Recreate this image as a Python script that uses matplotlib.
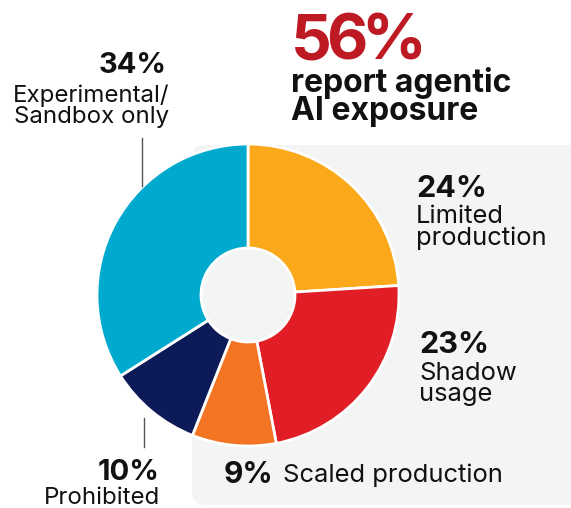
import matplotlib
matplotlib.use("Agg")
from matplotlib import pyplot as plt
from matplotlib.patches import FancyBboxPatch

# adoption stages, clockwise from 12 o'clock
stages = ["Limited production", "Shadow usage", "Scaled production", "Prohibited", "Experimental/\nSandbox only"]
shares = [24, 23, 9, 10, 34]
colors = ["#FBA81B", "#E11D25", "#F37423", "#0C1A57", "#00A9CE"]
headline = 56

plt.rcParams["font.family"] = ["Inter", "DejaVu Sans"]

W, H = 571, 508
fig = plt.figure(figsize=(W / 100, H / 100), dpi=100)
ax = fig.add_axes([0, 0, 1, 1])

# grey panel behind the right half
panel = FancyBboxPatch((192, 145), 420, 360, boxstyle="round,pad=0,rounding_size=14",
                       facecolor="#F3F4F4", edgecolor="none", zorder=0)
ax.add_patch(panel)

# y axis runs downward, so counterclock=True reads clockwise on screen
ax.pie(shares, colors=colors, startangle=-90, counterclock=True,
       center=(248, 295), radius=151,
       wedgeprops=dict(width=151 - 47, edgecolor="white", linewidth=2))

ax.set_xlim(0, W)
ax.set_ylim(H, 0)
ax.set_aspect("equal")
ax.axis("off")

dark = "#111111"
renderer = fig.canvas.get_renderer()


def tracked(x, y, s, track, **kw):
    # place characters one by one to tighten the spacing
    for ch in s:
        t = ax.text(x, y, ch, va="baseline", **kw)
        x += t.get_window_extent(renderer).width + track


def pct(x, y, v, size, ha="left"):
    ax.text(x, y, f"{v}%", fontsize=size, fontweight="bold", color=dark, ha=ha, va="baseline")


def words(x, y, s, size, ha="left", gap=22):
    for i, line in enumerate(s.split("\n")):
        ax.text(x, y + i * gap, line, fontsize=size, color=dark, ha=ha, va="baseline")


# headline
tracked(291, 60, f"{headline}%", -6, fontsize=46, fontweight="bold", color="#BE1A24")
ax.text(291, 92, "report agentic", fontsize=23, fontweight="bold", color=dark, va="baseline")
ax.text(291, 120, "AI exposure", fontsize=23, fontweight="bold", color=dark, va="baseline")

# slice labels, right side
pct(416, 197, shares[0], 22)
words(416, 223, stages[0].replace(" ", "\n"), 18.4, gap=22)

pct(419, 353, shares[1], 22)
words(419, 380, stages[1].replace(" ", "\n"), 18.4, gap=21)

pct(224, 483, shares[2], 21.5)
words(283, 482, stages[2], 18.4)

# slice labels, left side
pct(160, 480, shares[3], 21, ha="right")
words(160, 504, stages[3], 17.3, ha="right")

pct(167, 73, shares[4], 21, ha="right")
words(169, 102, stages[4], 17.3, ha="right", gap=21)

# leader lines
ax.plot([142, 142], [138, 186], color="#555555", lw=1)
ax.plot([144, 144], [418, 447], color="#555555", lw=1)

fig.savefig("out.png", dpi=100)
